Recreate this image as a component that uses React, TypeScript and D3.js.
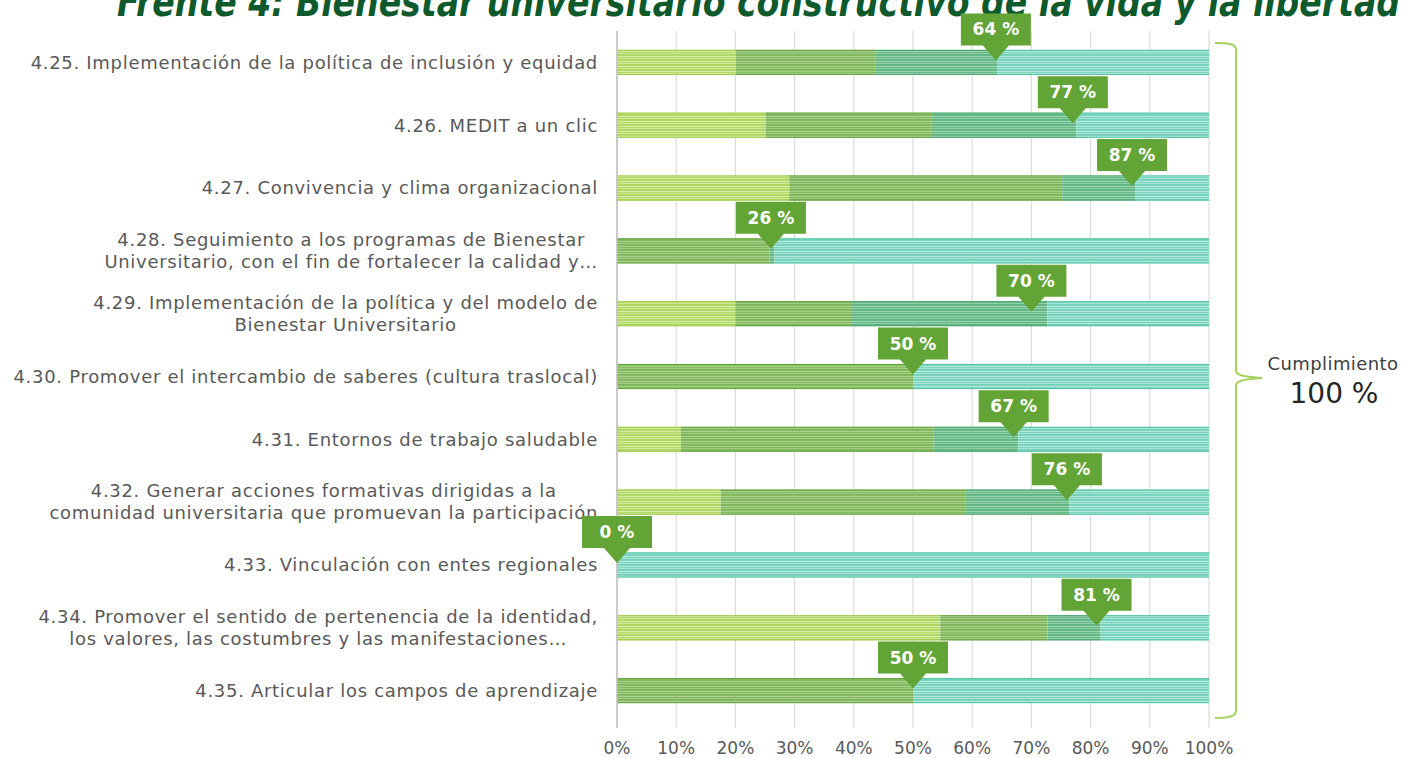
import React from "react";
import * as d3 from "d3";

// row labels (multi-line where the original wraps)
const labels: string[][] = [
  ["4.25. Implementación de la política de inclusión y equidad"],
  ["4.26. MEDIT a un clic"],
  ["4.27. Convivencia y clima organizacional"],
  ["4.28. Seguimiento a los programas de Bienestar", "Universitario, con el fin de fortalecer la calidad y…"],
  ["4.29. Implementación de la política y del modelo de", "Bienestar Universitario"],
  ["4.30. Promover el intercambio de saberes (cultura traslocal)"],
  ["4.31. Entornos de trabajo saludable"],
  ["4.32. Generar acciones formativas dirigidas a la", "comunidad universitaria que promuevan la participación"],
  ["4.33. Vinculación con entes regionales"],
  ["4.34. Promover el sentido de pertenencia de la identidad,", "los valores, las costumbres y las manifestaciones…"],
  ["4.35. Articular los campos de aprendizaje"],
];

// stacked segments (% of the bar)
const stage1 = [20.1, 25.1, 29.1, 0, 20.0, 0, 10.8, 17.5, 0, 54.6, 0];
const stage2 = [23.5, 28.1, 46.1, 25.8, 19.7, 50, 42.7, 41.3, 0, 18.1, 50];
const stage3 = [20.6, 24.4, 12.3, 0.8, 33.0, 0, 14.3, 17.6, 0, 9.0, 0];
const pending = [35.8, 22.4, 12.5, 73.4, 27.3, 50, 32.2, 23.6, 100, 18.3, 50];

// callout values
const compliance = [64, 77, 87, 26, 70, 50, 67, 76, 0, 81, 50];

const xTicks = [0, 10, 20, 30, 40, 50, 60, 70, 80, 90, 100];

const FONT = "'DejaVu Sans', sans-serif";
const W = 1407, H = 758;

const segStyles = [
  { id: "p-lime", base: "#b4d96b", light: "#d6eda6", dark: "#9fcd47" },
  { id: "p-green", base: "#86ba62", light: "#a9d18c", dark: "#66a540" },
  { id: "p-deep", base: "#68b98a", light: "#9ad5b0", dark: "#4aa86f" },
  { id: "p-teal", base: "#7dd4bf", light: "#b2e9db", dark: "#52c6a7" },
];

const App = () => {
  const ref = React.useRef<SVGSVGElement>(null);

  React.useEffect(() => {
    const svg = d3.select(ref.current);
    svg.selectAll("*").remove();

    const x = d3.scaleLinear([0, 100], [617, 1209]);
    const y = d3.scaleBand(labels.map((_, i) => String(i)), [31, 722]).paddingInner(0.6).paddingOuter(0.3);

    const defs = svg.append("defs");
    segStyles.forEach(s => {
      const p = defs.append("pattern").attr("id", s.id).attr("patternUnits", "userSpaceOnUse")
        .attr("width", 8).attr("height", 5);
      p.append("rect").attr("width", 8).attr("height", 5).attr("fill", s.base);
      p.append("rect").attr("y", 1).attr("width", 8).attr("height", 1).attr("fill", s.light);
      p.append("rect").attr("y", 3).attr("width", 8).attr("height", 0.8).attr("fill", s.light);
      p.append("rect").attr("y", 4.3).attr("width", 8).attr("height", 0.5).attr("fill", s.dark).attr("opacity", 0.5);
    });

    // title, cut off at the top edge
    svg.append("text")
      .attr("x", 117).attr("y", 16)
      .attr("font-family", FONT).attr("font-size", 40).attr("font-weight", "bold").attr("font-style", "italic")
      .attr("fill", "#0f5a2c")
      .attr("textLength", 1283).attr("lengthAdjust", "spacingAndGlyphs")
      .text("Frente 4: Bienestar universitario constructivo de la vida y la libertad");

    // gridlines
    svg.append("g").selectAll("line").data(xTicks).join("line")
      .attr("x1", d => x(d)).attr("x2", d => x(d))
      .attr("y1", 31).attr("y2", 728)
      .attr("stroke", "#dcdcdc").attr("stroke-width", 1.2);

    // x tick labels
    svg.append("g").selectAll("text").data(xTicks).join("text")
      .attr("x", d => x(d)).attr("y", 754)
      .attr("text-anchor", "middle")
      .attr("font-family", FONT).attr("font-size", 17).attr("fill", "#595959")
      .text(d => `${d}%`);

    // stacked bars
    const rows = labels.map((_, i) => ({
      key: String(i), s1: stage1[i], s2: stage2[i], s3: stage3[i], s4: pending[i],
    }));
    const stack = d3.stack<any>().keys(["s1", "s2", "s3", "s4"]);
    const series = stack(rows);
    const bh = y.bandwidth();

    svg.append("g").selectAll("g").data(series).join("g")
      .each(function (ser, si) {
        const st = segStyles[si];
        const g = d3.select(this);
        const vis = ser.filter(d => d[1] - d[0] > 0);
        g.selectAll("rect").data(vis).join("rect")
          .attr("x", d => x(d[0]))
          .attr("y", d => y(d.data.key)!)
          .attr("width", d => x(d[1]) - x(d[0]))
          .attr("height", bh)
          .attr("fill", `url(#${st.id})`);
        g.selectAll("line.top").data(vis).join("line").attr("class", "top")
          .attr("x1", d => x(d[0])).attr("x2", d => x(d[1]))
          .attr("y1", d => y(d.data.key)! + 0.5).attr("y2", d => y(d.data.key)! + 0.5)
          .attr("stroke", st.dark).attr("stroke-width", 1);
        g.selectAll("line.bot").data(vis).join("line").attr("class", "bot")
          .attr("x1", d => x(d[0])).attr("x2", d => x(d[1]))
          .attr("y1", d => y(d.data.key)! + bh - 0.5).attr("y2", d => y(d.data.key)! + bh - 0.5)
          .attr("stroke", st.dark).attr("stroke-width", 1);
      });

    // category axis line
    svg.append("line").attr("x1", 617).attr("x2", 617).attr("y1", 31).attr("y2", 728)
      .attr("stroke", "#bfbfbf").attr("stroke-width", 1.5);

    // row labels: block right-aligned at 598, lines centred within the block
    const lab = svg.append("g").attr("font-family", FONT).attr("font-size", 18)
      .attr("letter-spacing", 0.7).attr("fill", "#595959");
    labels.forEach((lines, i) => {
      const cy = y(String(i))! + bh / 2;
      const texts = lines.map((ln, k) =>
        lab.append("text")
          .attr("y", cy + (k - (lines.length - 1) / 2) * 22)
          .attr("dy", "0.35em")
          .attr("text-anchor", "middle")
          .text(ln));
      const widths = texts.map(t => (t.node() as SVGTextElement).getComputedTextLength());
      const maxW = Math.max(...widths);
      texts.forEach(t => t.attr("x", 598 - maxW / 2));
    });

    // callouts
    const call = svg.append("g").selectAll("g").data(compliance).join("g")
      .attr("transform", (d, i) => `translate(${x(d)},${y(String(i))! + bh / 2})`);
    call.append("path")
      .attr("d", "M-35,-49H35V-17H13L0,-2L-13,-17H-35Z")
      .attr("fill", "#62a436");
    call.append("text")
      .attr("y", -27).attr("text-anchor", "middle")
      .attr("font-family", FONT).attr("font-size", 17).attr("font-weight", "bold").attr("fill", "#ffffff")
      .text(d => `${d} %`);

    // brace + total
    svg.append("path")
      .attr("d", "M1215,43C1230,43 1236,44 1236,50V371C1236,375 1244,377 1262,378C1244,379 1236,381 1236,385V711C1236,716 1230,718 1215,718")
      .attr("fill", "none").attr("stroke", "#a6d35c").attr("stroke-width", 2);
    svg.append("text").attr("x", 1333).attr("y", 370).attr("text-anchor", "middle")
      .attr("font-family", FONT).attr("font-size", 18).attr("letter-spacing", 0.4)
      .attr("fill", "#404040").text("Cumplimiento");
    svg.append("text").attr("x", 1334).attr("y", 403).attr("text-anchor", "middle")
      .attr("font-family", FONT).attr("font-size", 28).attr("fill", "#262626").text("100 %");
  }, []);

  return (
    <svg ref={ref} width={W} height={H}
      style={{ position: "absolute", left: 0, top: 0, background: "#ffffff" }} />
  );
};

export default App;
